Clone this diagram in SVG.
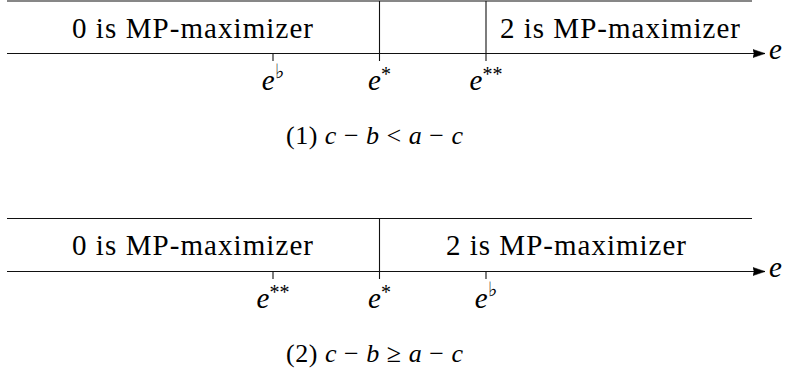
<svg xmlns="http://www.w3.org/2000/svg" width="787" height="374" viewBox="0 0 787 374">
<style>
.ln{stroke:#111;stroke-width:1.1;fill:none}
.ah{fill:#000;stroke:#000;stroke-width:0.6}
.t{font-family:"Liberation Serif","Times New Roman",serif;font-size:29px;fill:#000}
.m{font-family:"Liberation Serif","Times New Roman",serif;font-size:29px;font-style:italic;fill:#000}
.s{font-style:normal;font-size:20px}
.fl{font-family:"DejaVu Serif","DejaVu Sans",serif;font-style:normal;font-size:20px;fill:#000}
.c{font-family:"Liberation Serif","Times New Roman",serif;font-size:26px;fill:#000}
.i{font-style:italic}
</style>
<defs>
<marker id="arr" markerWidth="14" markerHeight="10" refX="12" refY="5" orient="auto" markerUnits="userSpaceOnUse">
<path class="ah" d="M0,1 L12,5 L0,9 L1.2,5 Z"/>
</marker>
</defs>
<g id="connectors">
<line class="ln" x1="7" y1="1" x2="752" y2="1"/>
<line class="ln" x1="7" y1="53.5" x2="765" y2="53.5" marker-end="url(#arr)"/>
<line class="ln" x1="379.5" y1="1" x2="379.5" y2="61"/>
<line class="ln" x1="486" y1="1" x2="486" y2="61"/>
<line class="ln" x1="273" y1="53.5" x2="273" y2="61"/>
<line class="ln" x1="7" y1="218.5" x2="752" y2="218.5"/>
<line class="ln" x1="7" y1="271.5" x2="765" y2="271.5" marker-end="url(#arr)"/>
<line class="ln" x1="379.5" y1="218.5" x2="379.5" y2="279"/>
<line class="ln" x1="273" y1="271.5" x2="273" y2="279"/>
<line class="ln" x1="486" y1="271.5" x2="486" y2="279"/>
</g>
<g id="d1-region0"><text class="t" x="192.5" y="37.5" text-anchor="middle" textLength="241" lengthAdjust="spacing">0 is MP-maximizer</text></g>
<g id="d1-region2"><text class="t" x="620" y="37.5" text-anchor="middle" textLength="240" lengthAdjust="spacing">2 is MP-maximizer</text></g>
<g id="d1-axis-label"><text class="m" x="769" y="59">e</text></g>
<g id="d1-eflat"><text class="m" x="273" y="90" text-anchor="middle">e<tspan class="fl" dy="-12">♭&#xFE0E;</tspan></text></g>
<g id="d1-estar"><text class="m" x="379.5" y="90" text-anchor="middle">e<tspan class="s" dy="-9">*</tspan></text></g>
<g id="d1-estarstar"><text class="m" x="486" y="90" text-anchor="middle">e<tspan class="s" dy="-9">**</tspan></text></g>
<g id="d1-caption"><text class="c" x="374.5" y="144" text-anchor="middle" textLength="177" lengthAdjust="spacing">(1)  <tspan class="i">c</tspan> − <tspan class="i">b</tspan> &lt; <tspan class="i">a</tspan> − <tspan class="i">c</tspan></text></g>
<g id="d2-region0"><text class="t" x="192.5" y="255" text-anchor="middle" textLength="241" lengthAdjust="spacing">0 is MP-maximizer</text></g>
<g id="d2-region2"><text class="t" x="566" y="255" text-anchor="middle" textLength="240" lengthAdjust="spacing">2 is MP-maximizer</text></g>
<g id="d2-axis-label"><text class="m" x="769" y="277">e</text></g>
<g id="d2-estarstar"><text class="m" x="273" y="308" text-anchor="middle">e<tspan class="s" dy="-9">**</tspan></text></g>
<g id="d2-estar"><text class="m" x="379.5" y="308" text-anchor="middle">e<tspan class="s" dy="-9">*</tspan></text></g>
<g id="d2-eflat"><text class="m" x="486" y="308" text-anchor="middle">e<tspan class="fl" dy="-12">♭&#xFE0E;</tspan></text></g>
<g id="d2-caption"><text class="c" x="374.5" y="362" text-anchor="middle" textLength="177" lengthAdjust="spacing">(2)  <tspan class="i">c</tspan> − <tspan class="i">b</tspan> ≥ <tspan class="i">a</tspan> − <tspan class="i">c</tspan></text></g>
</svg>
